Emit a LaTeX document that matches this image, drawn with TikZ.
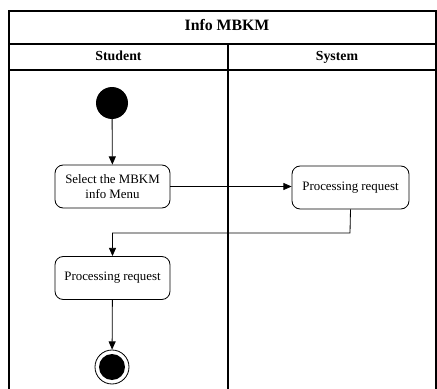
\documentclass[tikz,border=0pt]{standalone}
\usepackage{fontspec}
\setmainfont{Liberation Serif}
\usetikzlibrary{arrows.meta, positioning}

\begin{document}
\begin{tikzpicture}[
    x=0.03cm, y=-0.03cm,
    lane/.style={draw=black, line width=0.9pt},
    action/.style={rectangle, rounded corners=7pt, draw=black, line width=0.7pt, fill=white,
                   minimum width=115*0.03cm, minimum height=43*0.03cm, align=center,
                   font=\fontsize{11}{13}\selectfont, inner sep=2pt},
    startnode/.style={circle, fill=black, minimum size=32*0.03cm, inner sep=0pt},
    endnode/.style={circle, draw=black, line width=0.7pt, fill=white, minimum size=34*0.03cm, inner sep=0pt},
    header/.style={font=\fontsize{11.8}{14}\selectfont\bfseries, text height=8pt, text depth=2.5pt},
    flow/.style={-{Triangle[length=7pt, width=6pt]}, line width=0.7pt}
]
    \useasboundingbox (0,0) rectangle (437,389);

    % --- Swimlane frame ---
    \draw[lane] (9,389) -- (9,11) -- (436,11) -- (436,389);
    \draw[lane] (9,44) -- (436,44);
    \draw[lane] (9,70) -- (436,70);
    \draw[lane] (228,44) -- (228,389);

    \node[header, font=\fontsize{13.5}{16}\selectfont\bfseries] (title) at (227,27.5) {Info MBKM};
    \node[header] (student) at (118.5,57) {Student};
    \node[header] (system) at (337,57) {System};

    % --- Student lane ---
    \node[startnode] (start) at (112,103) {};
    \node[action] (select) at (112.5,186.5) {Select the MBKM\\info Menu};
    \node[action] (procB) at (112.5,278) {Processing request};
    \node[endnode] (stop) at (112,367) {};
    \node[circle, fill=black, minimum size=26*0.03cm, inner sep=0pt] (stopdot) at (stop) {};

    % --- System lane ---
    \node[action, minimum width=117*0.03cm] (procA) at (350.5,187.5) {Processing request};

    % --- Control flow ---
    \coordinate (bend) at (350,233);
    \draw[flow] (start) -- (select);
    \draw[flow] (select.east) -- (procA.west |- select.east);
    \draw[flow] (procA.south) -- (bend) -| (procB.north);
    \draw[flow] (procB) -- (stop);
\end{tikzpicture}
\end{document}
